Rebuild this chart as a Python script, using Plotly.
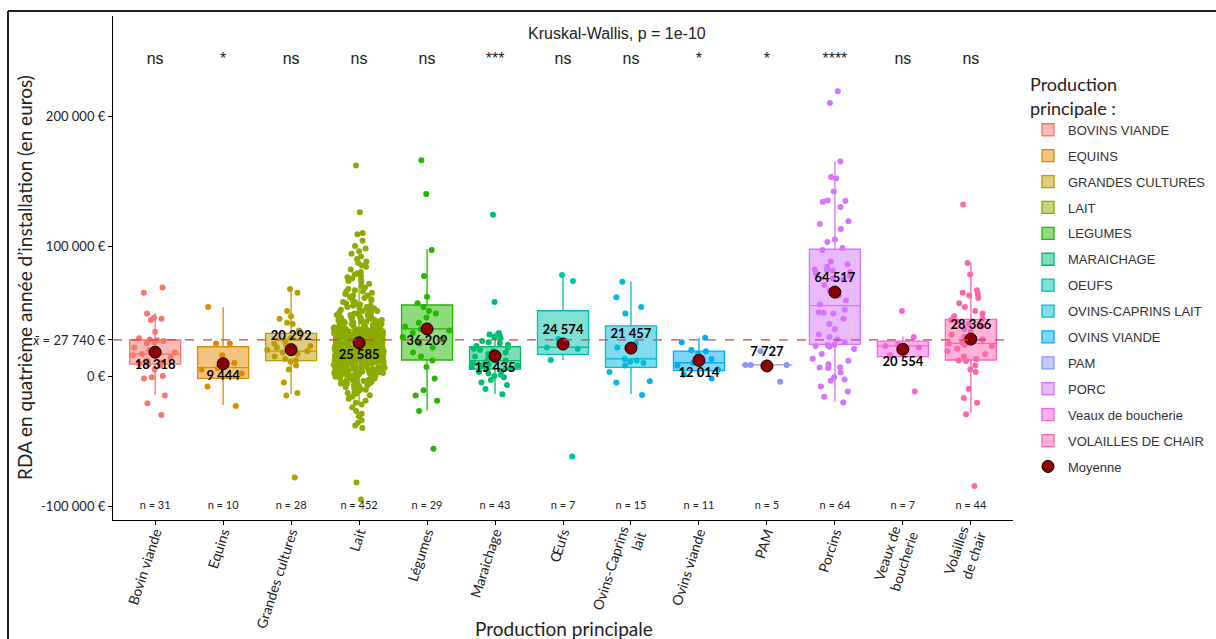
import plotly.graph_objects as go

# ---------------- data ----------------
categories = ["Bovin viande", "Equins", "Grandes cultures", "Lait", "Légumes",
              "Maraichage", "Œufs", "Ovins-Caprins<br>lait", "Ovins viande", "PAM",
              "Porcins", "Veaux de<br>boucherie", "Volailles<br>de chair"]
legend_names = ["BOVINS VIANDE", "EQUINS", "GRANDES CULTURES", "LAIT", "LEGUMES",
                "MARAICHAGE", "OEUFS", "OVINS-CAPRINS LAIT", "OVINS VIANDE", "PAM",
                "PORC", "Veaux de boucherie", "VOLAILLES DE CHAIR"]
colors = ["#F8766D", "#E18A00", "#BE9C00", "#8CAB00", "#24B700", "#00BE70", "#00C1AB",
          "#00BBDA", "#00ACFC", "#8B93FF", "#D575FE", "#F962DD", "#FF65AC"]
significance = ["ns", "*", "ns", "ns", "ns", "***", "ns", "ns", "*", "*", "****", "ns", "ns"]
means = [18318, 9444, 20292, 25585, 36209, 15435, 24574, 21457, 12014, 7727, 64517, 20554, 28366]
overall_mean = 27740

# box statistics (euros)
q1 = [9200, -1800, 11800, 13100, 12300, 5400, 16700, 6700, 4100, 8500, 24400, 14900, 12300]
median = [16900, 6400, 19200, 23300, 36200, 11800, 22100, 13100, 10200, 8500, 54100, 23100, 25100]
q3 = [27700, 22500, 32800, 35900, 54600, 22500, 50200, 38500, 19200, 8500, 97500, 26900, 43600]
lower_whisker = [-14600, -22300, -13800, -21000, -26700, -13800, 12300, -13800, -1000, 8500, -19800, 14900, -28700]
upper_whisker = [48500, 52800, 66700, 70000, 97700, 33600, 77700, 72600, 29500, 8500, 164800, 30300, 87400]

# individual observations (thousand euros)
pts_bovin_viande = [68, 64, 48, 45, 44, 43, 34, 29, 28, 27.5, 27, 26, 25, 22, 20, 18, 17, 16, 14, 12,
                    10, 9.5, 9, 8, 5, 0, -1, -2, -15, -21, -30]
pts_equins = [53, 25, 25, 16, 10, 6, 5, 2, -8, -23]
pts_grandes_cultures = [67, 64, 50, 46, 44, 41, 40, 35, 29, 27, 25, 24, 23, 22, 20, 19, 18, 17, 15, 13,
                        12, 11, 8, 5, -5, -13, -15, -78]
pts_lait = [
    162, 126, 110, 109, 104, 100, 98, 96, 94, 92, 90, 88, 87, 85, 84, 82, 80, 79, 78, 77, 76, 75, 74, 73, 72, 71,
    69, 68, 67, 66, 65, 65, 64, 63, 62, 62, 61, 60, 60, 59, 58, 58, 57, 57, 56, 56,
    55, 55, 54, 54, 53, 53, 52, 52, 51, 51, 50, 50, 50, 49, 49, 48, 48, 48, 47, 47,
    47, 46, 46, 46, 45, 45, 45, 44, 44, 44, 43, 43, 43, 43, 42, 42, 42, 42, 41, 41,
    41, 41, 40, 40, 40, 40, 39.5, 39, 39, 39, 38.5, 38, 38, 38, 37.5, 37, 37, 37, 36.8, 36.6,
    36.4, 36.2, 36, 36, 36, 36, 36,
    35.9, 35.8, 35.6, 35.5, 35.4, 35.2, 35.1, 35.0, 34.8, 34.7, 34.6, 34.4, 34.3, 34.2, 34.0, 33.9, 33.8,
    33.6, 33.5, 33.4, 33.2, 33.1, 33.0, 32.8, 32.7, 32.6, 32.4, 32.3, 32.2, 32.0, 31.9, 31.8, 31.6, 31.5,
    31.4, 31.2, 31.1, 31.0, 30.8, 30.7, 30.6, 30.4, 30.3, 30.2, 30.0, 29.9, 29.8, 29.6, 29.5, 29.4, 29.2,
    29.1, 29.0, 28.8, 28.7, 28.6, 28.4, 28.3, 28.2, 28.0, 27.9, 27.8, 27.6, 27.5, 27.4, 27.2, 27.1, 27.0,
    26.8, 26.7, 26.6, 26.4, 26.3, 26.2, 26.0, 25.9, 25.8, 25.6, 25.5, 25.4, 25.2, 25.1, 25.0, 24.8, 24.7,
    24.6, 24.4, 24.3, 24.2, 24.0, 23.9, 23.8, 23.6, 23.5, 23.4, 23.3, 23.2, 23.1, 23.0, 35.7, 34.9, 33.7,
    32.9, 31.7, 30.9, 29.7, 28.9, 27.7, 26.9, 25.7, 24.9, 23.7, 22.9,
    22.8, 22.7, 22.5, 22.4, 22.2, 22.1, 22.0, 21.8, 21.7, 21.5, 21.4, 21.3, 21.1, 21.0, 20.9, 20.7, 20.6,
    20.4, 20.3, 20.2, 20.0, 19.9, 19.8, 19.6, 19.5, 19.3, 19.2, 19.1, 18.9, 18.8, 18.7, 18.5, 18.4, 18.2,
    18.1, 18.0, 17.8, 17.7, 17.6, 17.4, 17.3, 17.1, 17.0, 16.9, 16.7, 16.6, 16.5, 16.3, 16.2, 16.0, 15.9,
    15.8, 15.6, 15.5, 15.4, 15.2, 15.1, 14.9, 14.8, 14.7, 14.5, 14.4, 14.3, 14.1, 14.0, 13.8, 13.7, 13.6,
    13.4, 13.3, 13.2, 13.1, 22.6, 21.9, 21.2, 20.5, 19.7, 19.0, 18.3, 17.5, 16.8, 16.1, 15.3, 14.6, 13.9,
    22.3, 20.8, 19.4, 17.9, 16.4, 15.0, 13.5, 21.6, 18.6, 15.7, 20.1, 17.2, 14.2, 19.6, 16.9, 22.9, 21.1,
    18.0, 15.5, 14.4, 20.7, 17.4, 13.9, 19.1, 16.2, 14.8, 21.5, 18.5,
    12.9, 12.7, 12.5, 12.2, 12.0, 11.8, 11.5, 11.3, 11.0, 10.8, 10.5, 10.3, 10.0, 9.8, 9.5, 9.2, 9.0, 8.7,
    8.4, 8.1, 7.8, 7.5, 7.2, 6.9, 6.6, 6.3, 6.0, 5.7, 5.3, 5.0, 4.7, 4.3, 4.0, 3.6, 3.3, 2.9, 2.5, 2.1,
    1.7, 1.3, 0.9, 0.5, 0.0, -0.5, -1.0, -1.5, -2.0, -2.6, -3.2, -3.8, -4.4, -5.0, -5.7, -6.4, -7.1, -7.9,
    -8.7, -9.6, -10.5, -11.5, -12.5, -13.6, -14.8, -16.0, -17.5, -19.0, -20.5, 12.8, 12.1, 11.4, 10.6, 9.9,
    9.1, 8.3, 7.4, 6.5, 5.5, 4.5, 3.4, 2.3, 1.1, -0.2, -1.8, -3.5, -5.3, -7.5, -10.0, -13.0, 11.9, 10.2,
    8.6, 6.8, 4.9, 2.7, 0.3, -2.8, -6.0, 12.4, 9.4, 5.9, 3.0, -1.2,
    -22, -24, -27, -29, -31, -34, -36, -38, -40, -82, -95]
pts_legumes = [166, 140, 97, 77, 61, 56, 53, 50, 48, 45, 41, 38, 36, 35, 33, 30, 28, 25, 22, 18, 15, 12,
               7, -2, -11, -15, -19, -27, -56]
pts_maraichage = [124, 57, 33, 32, 31, 30, 29, 27, 26, 25, 24, 23, 22, 21, 20, 19, 18, 17, 16, 15, 14,
                  13, 12, 12, 11, 10, 9, 8, 8, 7, 6, 5, 4, 3, 2, 1, 0, -1, -3, -5, -7, -10, -14]
pts_oeufs = [77.7, 73, 28.5, 22, 20.8, 12.3, -62]
pts_ovins_caprins = [72.5, 60.5, 53, 48, 25, 22, 13, 12, 11, 10, 8, 3, -4, -5, -14.6]
pts_ovins_viande = [29.5, 26, 20, 19, 17, 13, 10, 8, 5, 1, -2]
pts_pam = [19, 8.5, 8.5, 8.5, -4.4]
pts_porcins = [219, 210, 165, 153, 152, 142, 135, 134.6, 134, 130, 119, 117, 113, 105, 103, 98.5, 97, 88,
               86, 84, 82, 81.5, 81, 80, 79, 77, 75, 74, 70, 66, 62, 58, 55, 51, 49, 48.7, 48, 44, 40,
               36, 32, 30, 28, 26, 24, 23.8, 23, 22.5, 20.8, 17, 13.3, 11.8, 9, 6.7, 6.5, 6.2, 2.6, -1,
               -2.6, -3.6, -8, -12, -15.9, -20.3]
pts_veaux = [50, 30, 24, 23, 22, 16, -12]
pts_volailles = [132, 87, 78, 66, 64, 63, 62, 60, 56, 53, 50, 48, 46, 44, 43, 42, 40, 38, 36, 34, 32, 30,
                 29, 28, 27, 26, 25, 24, 23, 21, 19, 17, 15, 13, 12, 11.5, 8, 5, 3, -10, -17, -20.5,
                 -29.5, -84.6]
points = [pts_bovin_viande, pts_equins, pts_grandes_cultures, pts_lait, pts_legumes, pts_maraichage,
          pts_oeufs, pts_ovins_caprins, pts_ovins_viande, pts_pam, pts_porcins, pts_veaux, pts_volailles]

y_ticks = [-100000, 0, overall_mean, 100000, 200000]
y_ticktext = ["-100 000 €", "0 €", "<i>x\u0304</i> = 27 740 €", "100 000 €", "200 000 €"]
mean_label_pos = ["bottom center", "bottom center", "top center", "bottom center", "bottom center",
                  "bottom center", "top center", "top center", "bottom center", "top center",
                  "top center", "bottom center", "top center"]

# ---------------- helpers ----------------
def rgba(hexc, a):
    h = hexc.lstrip("#")
    return f"rgba({int(h[0:2],16)},{int(h[2:4],16)},{int(h[4:6],16)},{a})"

def fmt(v):
    return f"{v:,}".replace(",", " ")

CAL = "Lato, 'Open Sans', sans-serif"
ARI = "'Liberation Sans', Arial, sans-serif"

fig = go.Figure()

for i, cat in enumerate(categories):
    fig.add_trace(go.Box(
        x=[cat], q1=[q1[i]], median=[median[i]], q3=[q3[i]],
        lowerfence=[lower_whisker[i]], upperfence=[upper_whisker[i]],
        name=legend_names[i], legendgroup=f"g{i}", showlegend=True,
        fillcolor=rgba(colors[i], 0.5), line=dict(color=colors[i], width=1.3),
        whiskerwidth=0, width=0.75, boxpoints=False, hoverinfo="skip",
    ))

for i, cat in enumerate(categories):
    vals = [v * 1000 for v in points[i]]
    fig.add_trace(go.Box(
        x=[cat] * len(vals), y=vals, name=legend_names[i], legendgroup=f"g{i}",
        showlegend=False, boxpoints="all", jitter=1.0, pointpos=0, width=0.75,
        fillcolor="rgba(0,0,0,0)", line=dict(color="rgba(0,0,0,0)", width=0),
        marker=dict(color=colors[i], size=6, opacity=1), hoveron="points",
    ))

# mean labels (invisible markers give the text its offset)
fig.add_trace(go.Scatter(
    x=categories, y=means, mode="markers+text", showlegend=False, hoverinfo="skip",
    marker=dict(size=9, opacity=0),
    text=[f"<b>{fmt(m)}</b>" for m in means], textposition=mean_label_pos,
    textfont=dict(family=CAL, size=13, color="black"),
))
# mean markers (legend)
fig.add_trace(go.Scatter(
    x=categories, y=means, mode="markers", name="Moyenne", legendgroup="mean",
    marker=dict(color="#8B0000", size=12, line=dict(color="black", width=1)),
))
# significance
fig.add_trace(go.Scatter(
    x=categories, y=[243000] * len(categories), mode="text", showlegend=False, hoverinfo="skip",
    text=significance, textfont=dict(family=ARI, size=16, color="#222"),
))
# n labels
fig.add_trace(go.Scatter(
    x=categories, y=[-100000] * len(categories), mode="text", showlegend=False, hoverinfo="skip",
    text=[f"n = {len(p)}" for p in points], textfont=dict(family=CAL, size=11, color="#222"),
))

L, R, T, B = 113, 1013, 16, 520
W, H = 1216, 639
def px(xp): return (xp - L) / (R - L)
def py(yp): return (B - yp) / (B - T)

fig.update_layout(
    width=W, height=H,
    margin=dict(l=L, r=W - R, t=T, b=H - B, autoexpand=False),
    paper_bgcolor="white", plot_bgcolor="white",
    boxmode="overlay",
    showlegend=True,
    legend=dict(
        x=px(1028), y=py(68), xanchor="left", yanchor="top",
        title=dict(text="Production<br>principale :", font=dict(family=CAL, size=18, color="#222")),
        font=dict(family=ARI, size=13, color="#333"),
        tracegroupgap=6, bgcolor="rgba(0,0,0,0)",
    ),
    xaxis=dict(
        type="category", range=[-0.62, 12.62], showgrid=False, zeroline=False,
        showline=True, linecolor="black", linewidth=1.2, ticks="outside", ticklen=4,
        tickcolor="black", tickangle=-72, ticklabelstandoff=-6,
        tickfont=dict(family=CAL, size=14, color="#222"), automargin=False,
    ),
    yaxis=dict(
        range=[-110769, 276923], showgrid=False, zeroline=False,
        showline=True, linecolor="black", linewidth=1.2, ticks="outside", ticklen=4,
        tickcolor="black", tickvals=y_ticks, ticktext=y_ticktext,
        tickfont=dict(family=CAL, size=13, color="#222"), automargin=False,
    ),
    shapes=[
        dict(type="line", xref="paper", yref="y", x0=0, x1=1, y0=overall_mean, y1=overall_mean,
             line=dict(color="#D94040", width=1.2, dash="dash"), layer="above"),
        dict(type="line", xref="paper", yref="paper", x0=px(8), x1=px(1216), y0=py(11), y1=py(11),
             line=dict(color="#222", width=2)),
        dict(type="line", xref="paper", yref="paper", x0=px(8), x1=px(8), y0=py(11), y1=py(639),
             line=dict(color="#222", width=2)),
    ],
    annotations=[
        dict(text="Kruskal-Wallis, p = 1e-10", xref="paper", yref="paper", x=px(617), y=py(33),
             xanchor="center", yanchor="middle",
             showarrow=False, font=dict(family=ARI, size=16, color="#222")),
        dict(text="Production principale", xref="paper", yref="paper", x=px(564), y=py(628),
             xanchor="center", yanchor="middle",
             showarrow=False, font=dict(family=CAL, size=19, color="#222")),
        dict(text="RDA en quatrième année d’installation (en euros)", xref="paper", yref="paper",
             x=px(25), y=py(278), xanchor="center", yanchor="middle", textangle=-90, showarrow=False,
             font=dict(family=CAL, size=19, color="#222")),
    ],
)

fig.write_html("out.html", config={"displayModeBar": False},
               post_script="document.body.style.margin='0px';")
